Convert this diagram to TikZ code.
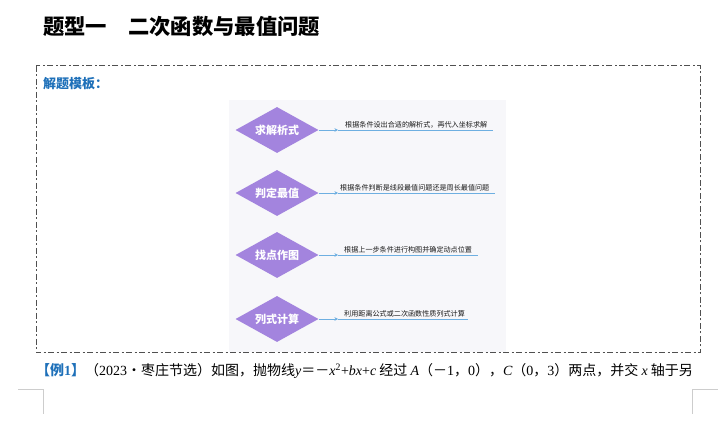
\documentclass[tikz,border=0pt]{standalone}
\usepackage{fontspec}
\setmainfont{Liberation Serif}
\newfontfamily\cjk{Noto Sans CJK SC}
\usetikzlibrary{shapes.geometric,arrows.meta}
\definecolor{dia}{RGB}{163,132,222}
\definecolor{lnb}{RGB}{110,175,225}
\definecolor{ttlblue}{RGB}{30,112,185}
\definecolor{boxgray}{RGB}{80,80,80}
\definecolor{panel}{RGB}{247,247,250}
\definecolor{cornergray}{RGB}{205,205,205}
\newcommand{\cj}[1]{{\cjk #1}}
\newcommand{\tmi}[1]{{\itshape #1}}
\begin{document}
\begin{tikzpicture}[x=1pt,y=-1pt,
 stepdia/.style={diamond, fill=dia, aspect=1.8, minimum width=83pt, minimum height=46pt, inner sep=0pt, text=white, font=\cjk\bfseries\fontsize{11}{13}\selectfont},
 desc/.style={anchor=south west, inner sep=0pt, text=black!90, font=\cjk\fontsize{7.1}{8}\selectfont},
 conn/.style={draw=lnb, line width=0.9pt},
 tip/.style={-{Stealth[length=3.5pt,width=3.5pt]}},
 ]
\useasboundingbox (0,0) rectangle (718,430);
% title
\node[anchor=west, inner sep=0pt, font=\cjk\bfseries\fontsize{21.3}{25}\selectfont] (title) at (43,27) {题型一　二次函数与最值问题};
% dashed frame
\draw[boxgray, line width=1pt, dash pattern=on 6pt off 2.5pt on 2pt off 2.5pt] (36,66) rectangle (700,353);
\node[anchor=west, inner sep=0pt, text=ttlblue, font=\cjk\bfseries\fontsize{13}{15}\selectfont] (tmpl) at (43,84) {解题模板：};
% panel
\fill[panel] (229,100) rectangle (506,352);
% diamonds
\node[stepdia] (d1) at (277,130) {求解析式};
\node[stepdia] (d2) at (277,193) {判定最值};
\node[stepdia] (d3) at (277,255) {找点作图};
\node[stepdia] (d4) at (277,319) {列式计算};
% connectors
\coordinate (a1) at (338,130); \coordinate (e1) at (493,130);
\coordinate (a2) at (338,193); \coordinate (e2) at (495,193);
\coordinate (a3) at (338,255); \coordinate (e3) at (478,255);
\coordinate (a4) at (338,319); \coordinate (e4) at (468,319);
\foreach \i in {1,2,3,4}{
  \draw[conn] (a\i) -- (e\i);
  \draw[conn,tip] (d\i.east) -- (a\i);
}
\node[desc] (t1) at (345,128) {根据条件设出合适的解析式，再代入坐标求解};
\node[desc] (t2) at (340,191) {根据条件判断是线段最值问题还是周长最值问题};
\node[desc] (t3) at (344,253) {根据上一步条件进行构图并确定动点位置};
\node[desc] (t4) at (344,317) {利用距离公式或二次函数性质列式计算};
% example line
\node[anchor=west, inner sep=0pt, font=\fontsize{14}{16}\selectfont] (ex) at (36,371) {{\cjk\bfseries\color{ttlblue}【例}{\bfseries\color{ttlblue}1}{\cjk\bfseries\color{ttlblue}】}\cj{（}2023\cj{•枣庄节选）如图，抛物线}\tmi{y}\cj{＝－}\tmi{x}\textsuperscript{2}+\tmi{bx}+\tmi{c}\cj{ 经过 }\tmi{A}\cj{（－}1\cj{，}0\cj{），}\tmi{C}\cj{（}0\cj{，}3\cj{）两点，并交 }\tmi{x}\cj{ 轴于另}};
% corner marks
\draw[cornergray, line width=0.8pt] (18,389) -- (43,389) -- (43,414);
\draw[cornergray, line width=0.8pt] (718,389) -- (692,389) -- (692,414);
\end{tikzpicture}
\end{document}
